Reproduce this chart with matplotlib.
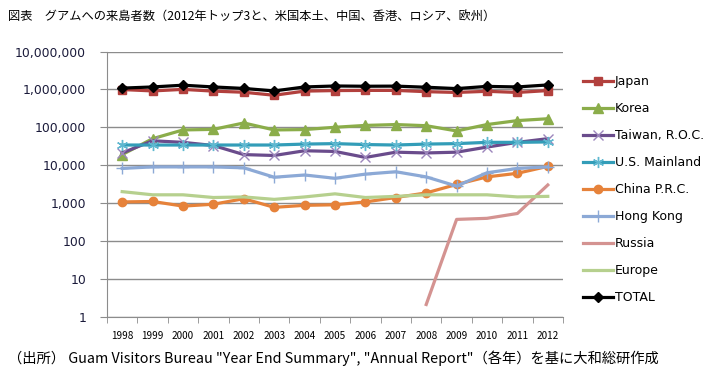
import matplotlib
matplotlib.use("Agg")
import matplotlib.pyplot as plt
from matplotlib.ticker import FixedLocator, NullLocator, FuncFormatter
import numpy as np

years = ["1998", "1999", "2000", "2001", "2002", "2003", "2004", "2005",
         "2006", "2007", "2008", "2009", "2010", "2011", "2012"]

japan = [990000, 910000, 1000000, 900000, 840000, 700000, 900000, 930000,
         940000, 940000, 870000, 830000, 890000, 830000, 930000]
korea = [19000, 50000, 85000, 88000, 130000, 85000, 87000, 100000,
         112000, 118000, 110000, 80000, 118000, 150000, 168000]
taiwan = [21000, 44000, 40000, 33000, 19000, 18000, 24000, 23000,
          16000, 22000, 21000, 22000, 30000, 40000, 50000]
us_mainland = [34000, 34000, 34000, 34000, 34000, 34000, 36000, 37000,
               35000, 34000, 36000, 37000, 40000, 40000, 41000]
china = [1070, 1100, 830, 930, 1300, 770, 870, 900,
         1070, 1400, 1850, 3100, 4900, 6100, 9300]
hong_kong = [8200, 9000, 9000, 9000, 8500, 4800, 5500, 4500,
             5800, 6700, 4900, 2800, 6300, 8200, 9000]
russia = [None, None, None, None, None, None, None, None,
          None, None, 2.1, 370, 395, 530, 3000]
europe = [2000, 1650, 1650, 1400, 1450, 1250, 1450, 1750,
          1400, 1500, 1650, 1650, 1650, 1450, 1500]
total = [1080000, 1160000, 1290000, 1160000, 1060000, 910000, 1160000, 1230000,
         1210000, 1220000, 1140000, 1050000, 1200000, 1160000, 1310000]

series = [
    ("Japan", japan, "#B2403D", "s", "#B2403D"),
    ("Korea", korea, "#8BAD4A", "^", "#8BAD4A"),
    ("Taiwan, R.O.C.", taiwan, "#6A4C8C", "x", "#9C86BC"),
    ("U.S. Mainland", us_mainland, "#339DB8", (6, 2, 0), "#5FB8D0"),
    ("China P.R.C.", china, "#E6823A", "o", "#E6823A"),
    ("Hong Kong", hong_kong, "#8CA9D6", "+", "#8CA9D6"),
    ("Russia", russia, "#D49391", None, None),
    ("Europe", europe, "#B6D08E", None, None),
    ("TOTAL", total, "#000000", "D", "#000000"),
]
marker_sizes = {"Japan": 5.5, "Korea": 6.5, "Taiwan, R.O.C.": 7, "U.S. Mainland": 8,
                "China P.R.C.": 6, "Hong Kong": 8, "TOTAL": 5.5}

plt.rcParams['font.family'] = ['Noto Sans CJK JP', 'DejaVu Sans']

fig = plt.figure(figsize=(7.18, 3.74), dpi=100)
ax = fig.add_axes([107 / 718, 1 - 316.7 / 374, 456 / 718, (316.7 - 51.5) / 374])

x = np.arange(len(years))
for name, vals, col, mk, mcol in series:
    y = np.array([np.nan if v is None else v for v in vals], dtype=float)
    kw = {}
    if mk is not None:
        kw = dict(marker=mk, markersize=marker_sizes[name], markerfacecolor=mcol,
                  markeredgecolor=mcol, markeredgewidth=1.0)
    ax.plot(x, y, color=col, lw=2.3, label=name, solid_joinstyle="round", **kw)

ax.set_yscale("log")
ax.set_ylim(1, 1e7)
ax.set_xlim(-0.5, len(years) - 0.5)
ax.yaxis.set_major_locator(FixedLocator([10 ** k for k in range(8)]))
ax.yaxis.set_minor_locator(NullLocator())
ax.yaxis.set_major_formatter(FuncFormatter(lambda v, p: f"{int(round(v)):,}"))
ax.grid(axis="y", color="#8C8C8C", lw=1.0)
ax.set_axisbelow(True)

ax.set_xticks(x)
ax.set_xticklabels(years, fontsize=7.2, family=['Noto Sans CJK JP'])
ax.set_xticks(np.arange(len(years) + 1) - 0.5, minor=True)
ax.tick_params(axis="x", which="major", length=0, pad=10)
ax.tick_params(axis="x", which="minor", length=4, color="#8C8C8C", direction="out")
ax.tick_params(axis="y", length=5, color="#8C8C8C", direction="out", pad=10,
               labelsize=8.9, labelcolor="#1A1A3A")
for lab in ax.get_yticklabels():
    lab.set_family("DejaVu Sans")

for s in ["top", "right"]:
    ax.spines[s].set_visible(False)
ax.spines["left"].set_color("#8C8C8C")
ax.spines["bottom"].set_color("#8C8C8C")

leg = fig.legend(loc="upper left", bbox_to_anchor=(583 / 718, 1 - 75 / 374),
                 frameon=False, handlelength=2.4, handletextpad=0.15,
                 labelspacing=1.12, borderaxespad=0, borderpad=0,
                 prop={"family": "DejaVu Sans", "size": 9})

fig.text(8 / 718, 1 - 16 / 374,
         "図表　グアムへの来島者数（2012年トップ3と、米国本土、中国、香港、ロシア、欧州）",
         fontsize=8.8, va="center", ha="left", family=['Noto Sans CJK JP'])
fig.text(8 / 718, 1 - 358 / 374,
         "（出所） Guam Visitors Bureau \"Year End Summary\", \"Annual Report\"（各年）を基に大和総研作成",
         fontsize=10.3, va="center", ha="left", family=['Noto Sans CJK JP'])

fig.savefig("out.png", dpi=100)
